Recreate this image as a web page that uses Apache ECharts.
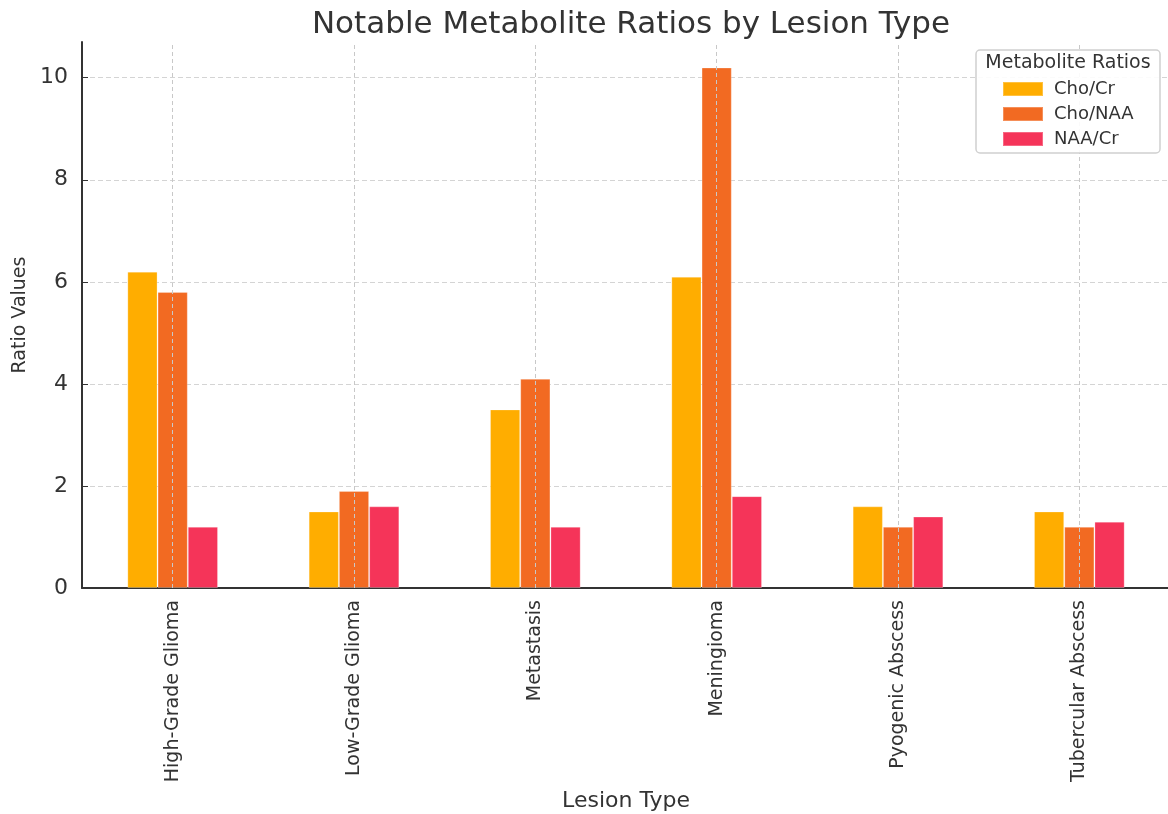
<!DOCTYPE html>
<html>
<head>
<meta charset="utf-8">
<title>Notable Metabolite Ratios by Lesion Type</title>
<script src="https://cdn.jsdelivr.net/npm/echarts@6/dist/echarts.min.js"></script>
<style>
  html, body { margin: 0; padding: 0; background: #fff; }
  #chart { width: 1168px; height: 814px; }
</style>
</head>
<body>
<div id="chart"></div>
<script>
// lesion types along the x axis
const lesionTypes = [
  "High-Grade Glioma",
  "Low-Grade Glioma",
  "Metastasis",
  "Meningioma",
  "Pyogenic Abscess",
  "Tubercular Abscess"
];

// ratio values
const choCr = [6.2, 1.5, 3.5, 6.1, 1.6, 1.5];
const choNaa = [5.8, 1.9, 4.1, 10.2, 1.2, 1.2];
const naaCr = [1.2, 1.6, 1.2, 1.8, 1.4, 1.3];

const seriesNames = ["Cho/Cr", "Cho/NAA", "NAA/Cr"];
const seriesColors = ["#FFAD00", "#F26A22", "#F53459"];

const font = "DejaVu Sans, sans-serif";
const textColor = "#333333";
const gridColor = "#d4d4d4";

const chart = echarts.init(document.getElementById("chart"));

// vertical grid lines sit over the bars, like the original
// (put on the middle series so they land on the category centre)
const centerLines = {
  silent: true,
  symbol: "none",
  label: { show: false },
  lineStyle: { color: "#c8c8c8", type: [4, 3], width: 1 },
  data: lesionTypes.map((name) => ({ xAxis: name })),
};

const makeSeries = (name, data, color, withLines) => ({
  name,
  type: "bar",
  data,
  barGap: "0%",
  barCategoryGap: "50%",
  itemStyle: { color, borderColor: "rgba(255,255,255,0.25)", borderWidth: 1 },
  markLine: withLines ? centerLines : undefined,
  z: 2,
});

const option = {
  animation: false,
  textStyle: { fontFamily: font },
  title: {
    text: "Notable Metabolite Ratios by Lesion Type",
    left: 626,
    top: 4,
    textAlign: "center",
    textStyle: { fontFamily: font, fontSize: 31, fontWeight: "normal", color: textColor },
  },
  grid: { left: 82, right: -2, top: 42, bottom: 226, containLabel: false, outerBoundsMode: "none" },
  legend: {
    data: seriesNames,
    orient: "vertical",
    left: 997,
    top: 75,
    z: 110,
    itemWidth: 40,
    itemHeight: 14,
    itemGap: 7,
    icon: "rect",
    textStyle: { fontFamily: font, fontSize: 18, lineHeight: 18, color: textColor, padding: [0, 0, 0, 6] },
  },
  graphic: [
    {
      type: "rect",
      shape: { x: 976, y: 50, width: 184, height: 103, r: 4 },
      style: { fill: "rgba(255,255,255,0.9)", stroke: "#d0d0d0", lineWidth: 1.5 },
      z: 100,
      silent: true,
    },
    {
      type: "text",
      x: 1068,
      y: 54,
      style: {
        text: "Metabolite Ratios",
        font: "19px " + font,
        fill: textColor,
        align: "center",
      },
      z: 111,
      silent: true,
    },
  ],
  xAxis: {
    type: "category",
    data: lesionTypes,
    name: "Lesion Type",
    nameLocation: "middle",
    nameGap: 200,
    nameTextStyle: { fontFamily: font, fontSize: 22, color: textColor },
    axisLine: { lineStyle: { color: textColor, width: 2 } },
    axisTick: { show: true, inside: true, alignWithLabel: true, length: 5, lineStyle: { color: textColor } },
    axisLabel: { rotate: 90, fontSize: 19, color: textColor, margin: 12, fontFamily: font },
    splitLine: { show: false },
  },
  yAxis: {
    type: "value",
    min: 0,
    max: 10.7,
    interval: 2,
    name: "Ratio Values",
    nameLocation: "middle",
    nameGap: 46,
    nameTextStyle: { fontFamily: font, fontSize: 19, color: textColor },
    axisLine: { show: true, lineStyle: { color: textColor, width: 2 } },
    axisTick: { show: true, inside: true, length: 6, lineStyle: { color: textColor } },
    axisLabel: { fontSize: 22, color: textColor, margin: 14, fontFamily: font, showMaxLabel: false },
    splitLine: { show: true, showMaxLine: false, lineStyle: { color: gridColor, type: [5, 3], width: 1 } },
  },
  series: [
    makeSeries(seriesNames[0], choCr, seriesColors[0], false),
    makeSeries(seriesNames[1], choNaa, seriesColors[1], true),
    makeSeries(seriesNames[2], naaCr, seriesColors[2], false),
  ],
};

chart.setOption(option);
</script>
</body>
</html>
